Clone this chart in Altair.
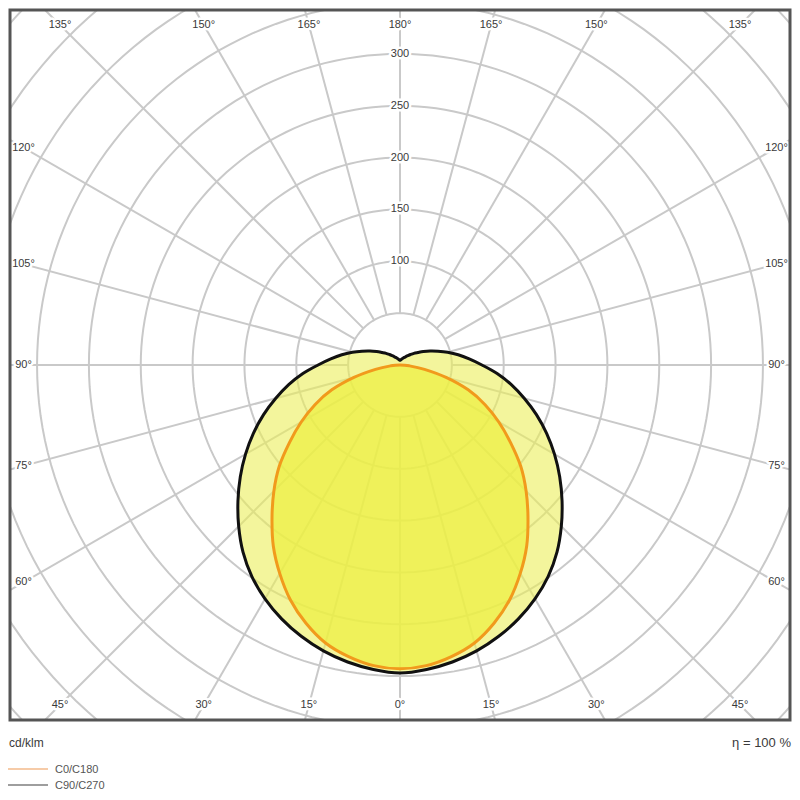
import altair as alt
import pandas as pd

# ---------------- data ----------------
gamma_deg = list(range(0, 181, 5))
# C0/C180 plane (orange), cd/klm
c0_c180 = [293, 291, 285.5, 277.5, 265, 250, 232, 213, 192, 172, 152, 130, 110, 90.5, 70, 46, 24, 9, 0,
           0, 0, 0, 0, 0, 0, 0, 0, 0, 0, 0, 0, 0, 0, 0, 0, 0, 0]
# C90/C270 plane (black), cd/klm
c90_c270 = [297, 294.7, 290.8, 285.4, 278.4, 270.1, 260.3, 249, 235.5, 220, 204, 188, 172, 156, 140, 124,
            109, 94, 79, 67, 57, 47.5, 39, 32, 26, 21, 17.5, 14.3, 11.8, 9.9, 8.5, 7.4, 6.5, 5.8,
            5.2, 4.8, 4.5]

ring_radii = [50, 100, 150, 200, 250, 300, 350, 400, 450, 500, 550]
ring_label_values = [100, 150, 200, 250, 300]
spoke_deg = list(range(0, 360, 15))
angle_label_deg = [0, 15, 30, 45, 60, 75, 90, 105, 120, 135, 150, 165, 180]

series_names = ["C0/C180", "C90/C270"]
line_colors = ["#f19a1c", "#111111"]
legend_colors = ["#f6cba8", "#9e9e9e"]
footer_left = "cd/klm"
footer_right = "η = 100 %"

# ---------------- layout ----------------
K = 1.037          # px per cd/klm
W, H = 780, 710    # plot area
CX, CY = 390, 355  # pole position inside plot area
xs = alt.Scale(domain=[-CX / K, (W - CX) / K], nice=False, zero=False)
ys = alt.Scale(domain=[-(H - CY) / K, CY / K], nice=False, zero=False)
FONT = "Liberation Sans"
GRID = "#c9c9c9"
TXT = "#3a3a3a"


def polygon(values, max_gamma):
    pts = [(g, v) for g, v in zip(gamma_deg, values) if g <= max_gamma]
    rows, order = [], 0
    for g, v in pts:
        rows.append(dict(gamma=g, I=v, side=1, order=order))
        order += 1
    for g, v in reversed(pts[1:-1]):
        rows.append(dict(gamma=g, I=v, side=-1, order=order))
        order += 1
    return pd.DataFrame(rows)


def curve_base(df):
    return alt.Chart(df).transform_calculate(
        x="datum.side*datum.I*sin(datum.gamma*PI/180)",
        y="-datum.I*cos(datum.gamma*PI/180)",
    )


enc_xy = dict(
    x=alt.X("x:Q", scale=xs, axis=None),
    y=alt.Y("y:Q", scale=ys, axis=None),
    order="order:Q",
)

df_c0 = polygon(c0_c180, 90)
df_c90 = polygon(c90_c270, 180)

# grid circles
df_circ = pd.DataFrame([dict(r=r, a=a) for r in ring_radii for a in range(0, 360, 2)])
circles = alt.Chart(df_circ).transform_calculate(
    x="datum.r*sin(datum.a*PI/180)", y="datum.r*cos(datum.a*PI/180)"
).mark_line(color=GRID, strokeWidth=2, clip=True, interpolate="linear-closed").encode(
    x=alt.X("x:Q", scale=xs, axis=None),
    y=alt.Y("y:Q", scale=ys, axis=None),
    detail="r:N",
    order="a:Q",
)

# spokes every 15 degrees, starting at the 50 ring
df_sp = pd.DataFrame(dict(deg=spoke_deg))
spokes = alt.Chart(df_sp).transform_calculate(
    x="50*sin(datum.deg*PI/180)", y="-50*cos(datum.deg*PI/180)",
    x2="900*sin(datum.deg*PI/180)", y2="-900*cos(datum.deg*PI/180)",
).mark_rule(color=GRID, strokeWidth=2, clip=True).encode(
    x=alt.X("x:Q", scale=xs, axis=None),
    y=alt.Y("y:Q", scale=ys, axis=None),
    x2="x2:Q",
    y2="y2:Q",
)

fill_outer = curve_base(df_c90).mark_line(
    fill="#ebee5a", fillOpacity=0.6, strokeOpacity=0, interpolate="cardinal-closed"
).encode(**enc_xy)
fill_inner = curve_base(df_c0).mark_line(
    fill="#ecf03e", fillOpacity=0.7, strokeOpacity=0, interpolate="cardinal-closed"
).encode(**enc_xy)
line_outer = curve_base(df_c90).mark_line(
    color=line_colors[1], strokeWidth=3, interpolate="cardinal-closed", strokeJoin="round"
).encode(**enc_xy)
line_inner = curve_base(df_c0).mark_line(
    color=line_colors[0], strokeWidth=3, interpolate="cardinal-closed", strokeJoin="round"
).encode(**enc_xy)

# angle labels along the frame + ring value labels along the 180° spoke (one table)
XIN = (W / 2 - 13.5) / K
YIN = (H / 2 - 15) / K
lab_rows = []
for side in (1, -1):
    for d in angle_label_deg:
        if side == -1 and d in (0, 180):
            continue
        lab_rows.append(dict(kind="angle", deg=d, side=side, r=0, txt=f"{d}°"))
for v in ring_label_values:
    lab_rows.append(dict(kind="ring", deg=180, side=1, r=v, txt=str(v)))
df_lab = pd.DataFrame(lab_rows)
lab_base = alt.Chart(df_lab).transform_calculate(
    t=f"datum.kind == 'ring' ? datum.r : "
      f"min({XIN}/abs(sin(datum.deg*PI/180)), {YIN}/abs(cos(datum.deg*PI/180)))"
).transform_calculate(
    x="datum.kind == 'ring' ? 0 : datum.side*datum.t*sin(datum.deg*PI/180)",
    y="datum.kind == 'ring' ? datum.t : -datum.t*cos(datum.deg*PI/180)",
)
lab_enc = dict(x=alt.X("x:Q", scale=xs, axis=None), y=alt.Y("y:Q", scale=ys, axis=None), text="txt:N")
lab_halo = lab_base.mark_text(font=FONT, fontSize=11, fill="white", stroke="white",
                              strokeWidth=5, strokeJoin="round").encode(**lab_enc)
lab_text = lab_base.mark_text(font=FONT, fontSize=11, fill=TXT).encode(**lab_enc)

# frame
frame = alt.Chart(pd.DataFrame({"a": [0]})).mark_rect(
    filled=False, stroke="#555555", strokeWidth=3
).encode(x=alt.value(0), x2=alt.value(W), y=alt.value(0), y2=alt.value(H))

# footer
foot_l = alt.Chart(pd.DataFrame({"t": [footer_left]})).mark_text(
    font=FONT, fontSize=12, fill=TXT, align="left", baseline="middle"
).encode(text="t:N", x=alt.value(-1), y=alt.value(733))
foot_r = alt.Chart(pd.DataFrame({"t": [footer_right]})).mark_text(
    font=FONT, fontSize=13, fill=TXT, align="right", baseline="middle"
).encode(text="t:N", x=alt.value(W + 1), y=alt.value(733))

legend_layers = []
for i, (name, col) in enumerate(zip(series_names, legend_colors)):
    yy = 759 + 16 * i
    legend_layers.append(
        alt.Chart(pd.DataFrame({"a": [0]})).mark_rule(color=col, strokeWidth=2).encode(
            x=alt.value(-2), x2=alt.value(38), y=alt.value(yy)
        )
    )
    legend_layers.append(
        alt.Chart(pd.DataFrame({"t": [name]})).mark_text(
            font=FONT, fontSize=11, fill="#555555", align="left", baseline="middle"
        ).encode(text="t:N", x=alt.value(45), y=alt.value(yy + 1))
    )

chart = alt.layer(
    circles, spokes, fill_outer, fill_inner, line_outer, line_inner,
    lab_halo, lab_text, frame, foot_l, foot_r, *legend_layers
).properties(
    width=W, height=H,
    padding={"left": 2, "top": 2, "right": 2, "bottom": 71},
    autosize=alt.AutoSizeParams(type="none"),
).configure_view(stroke=None)

chart.save("out.html", embed_options={"renderer": "svg", "actions": False})
